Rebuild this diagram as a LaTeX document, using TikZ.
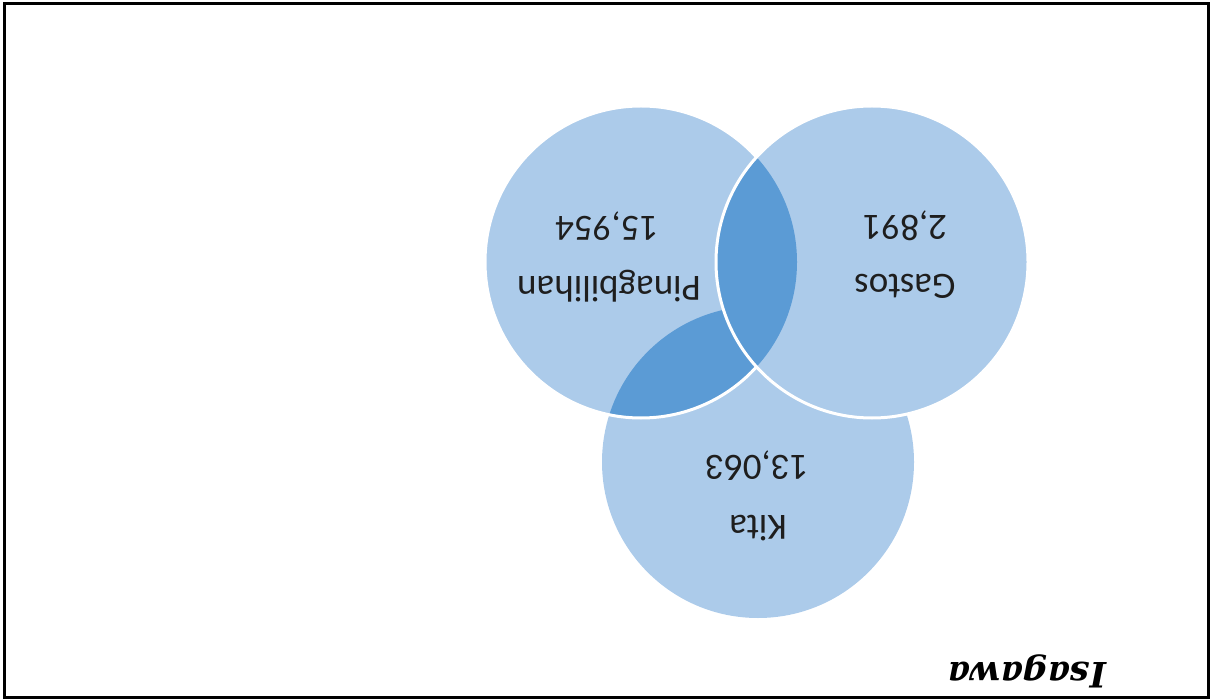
\documentclass[tikz,border=0pt]{standalone}
\usepackage{fontspec}
\setmainfont{Carlito}
\newfontfamily\headfont{DejaVu Serif}
\definecolor{vennlight}{RGB}{172,203,234}
\definecolor{venndark}{RGB}{91,155,213}
\definecolor{venntext}{RGB}{30,30,30}

\begin{document}
\begin{tikzpicture}[x=1pt, y=-1pt,
    label/.style={rotate=180, text=venntext, font=\fontsize{37}{40}\selectfont, inner sep=0pt}]
        \useasboundingbox (0,0) rectangle (1212,700);
        \draw[line width=3pt] (4.5,3.5) rectangle (1208.5,697.5);
        % Kita
        \fill[vennlight] (758,462) circle[radius=156pt];
        % Pinagbilihan, with its overlap on Kita
        \fill[vennlight] (641,262) circle[radius=156pt];
        \begin{scope}
            \clip (758,462) circle[radius=156pt];
            \fill[venndark] (641,262) circle[radius=156pt];
        \end{scope}
        \draw[white, line width=3pt] (641,262) circle[radius=156pt];
        % Gastos, with its overlap on Pinagbilihan
        \fill[vennlight] (872,262) circle[radius=156pt];
        \begin{scope}
            \clip (641,262) circle[radius=156pt];
            \fill[venndark] (872,262) circle[radius=156pt];
        \end{scope}
        \draw[white, line width=3pt] (872,262) circle[radius=156pt];
        \node[label] (pinag) at (609,286) {Pinagbilihan};
        \node[label] (pinagval) at (607,226) {15,954};
        \node[label] (gastos) at (905,286) {Gastos};
        \node[label] (gastosval) at (905,226) {2,891};
        \node[label] (kita) at (758,528) {Kita};
        \node[label] (kitaval) at (757,466) {13,063};
        \node[rotate=180, inner sep=0pt, font=\headfont\bfseries\itshape\fontsize{35}{38}\selectfont] (title) at (1027,671) {Isagawa};
    \end{tikzpicture}
\end{document}
